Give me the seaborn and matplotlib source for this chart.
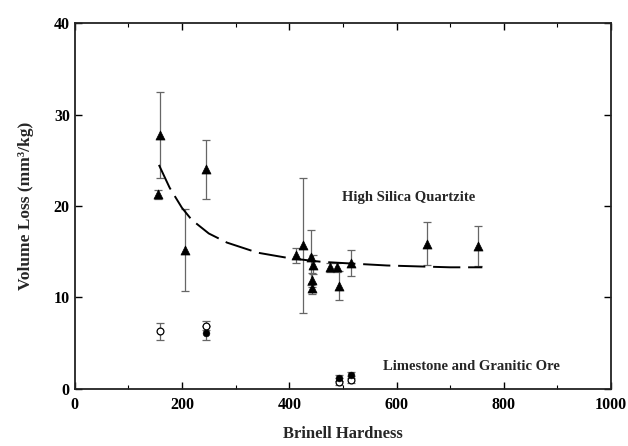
"""
Volume loss vs. Brinell hardness for quartzite and limestone ores.
"""

import matplotlib
matplotlib.use('Agg')
import matplotlib.pyplot as plt  # noqa: E402
import seaborn as sns  # noqa: E402
import pandas as pd  # noqa: E402
from matplotlib.ticker import MultipleLocator  # noqa: E402

# High silica quartzite (filled triangles)
quartz_hardness = [159, 155, 205, 244, 412, 425, 440, 444, 443, 443,
                   476, 489, 492, 515, 657, 752]
quartz_loss = [27.8, 21.3, 15.2, 24.0, 14.6, 15.7, 14.4, 13.6, 11.9, 11.0,
               13.3, 13.3, 11.3, 13.8, 15.9, 15.6]
quartz_err = [4.7, 0.5, 4.5, 3.2, 0.8, 7.4, 3.0, 1.0, 0.8, 0.6,
              0.5, 0.5, 1.6, 1.4, 2.4, 2.2]

# Limestone and granitic ore, open circles
lime_open_hardness = [159, 245, 493, 515]
lime_open_loss = [6.3, 6.9, 0.8, 1.0]
lime_open_err = [0.9, 0.5, 0.4, 0.4]

# Limestone and granitic ore, filled circles
lime_fill_hardness = [245, 493, 515]
lime_fill_loss = [6.1, 1.2, 1.5]
lime_fill_err = [0.8, 0.3, 0.3]

# Fitted trend for quartzite (dashed)
fit_hardness = [157, 177, 200, 218, 250, 284, 341, 400, 460, 520,
                582, 640, 700, 760]
fit_loss = [24.5, 22.0, 19.8, 18.5, 17.0, 16.0, 14.9, 14.3, 13.9, 13.7,
            13.5, 13.4, 13.3, 13.3]

sns.set_theme(style='ticks')
plt.rcParams['font.family'] = ['Liberation Serif', 'DejaVu Serif']
plt.rcParams['font.weight'] = 'bold'
plt.rcParams['axes.labelweight'] = 'bold'

fig = plt.figure(figsize=(6.28, 4.46), dpi=100)
ax = fig.add_axes([0.119, 0.128, 0.854, 0.820])

quartz = pd.DataFrame({'hardness': quartz_hardness, 'loss': quartz_loss})
lime_open = pd.DataFrame({'hardness': lime_open_hardness,
                          'loss': lime_open_loss})
lime_fill = pd.DataFrame({'hardness': lime_fill_hardness,
                          'loss': lime_fill_loss})
fit = pd.DataFrame({'hardness': fit_hardness, 'loss': fit_loss})

err_style = dict(fmt='none', ecolor='#666666', elinewidth=0.9,
                 capsize=3.2, capthick=0.9, zorder=2)
ax.errorbar(quartz_hardness, quartz_loss, yerr=quartz_err, **err_style)
ax.errorbar(lime_open_hardness, lime_open_loss, yerr=lime_open_err,
            **err_style)
ax.errorbar(lime_fill_hardness, lime_fill_loss, yerr=lime_fill_err,
            **err_style)

sns.lineplot(data=fit, x='hardness', y='loss', ax=ax, color='black',
             linewidth=1.4, zorder=3)
ax.lines[-1].set_dashes([14, 4])

sns.scatterplot(data=quartz, x='hardness', y='loss', ax=ax, marker='^',
                s=42, color='black', edgecolor='black', zorder=4)
sns.scatterplot(data=lime_open, x='hardness', y='loss', ax=ax, marker='o',
                s=24, facecolor='white', edgecolor='black', linewidth=0.9,
                zorder=4)
sns.scatterplot(data=lime_fill, x='hardness', y='loss', ax=ax, marker='o',
                s=24, color='black', edgecolor='black', zorder=5)

ax.text(498, 20.9, 'High Silica Quartzite', ha='left', va='center',
        fontsize=10.5, fontweight='bold')
ax.text(905, 2.5, 'Limestone and Granitic Ore', ha='right', va='center',
        fontsize=10.5, fontweight='bold')

ax.set_xlim(0, 1000)
ax.set_ylim(0, 40)
ax.xaxis.set_major_locator(MultipleLocator(200))
ax.xaxis.set_minor_locator(MultipleLocator(100))
ax.yaxis.set_major_locator(MultipleLocator(10))
ax.tick_params(which='both', direction='in', top=True, right=True,
               labelsize=11.5, colors='black')
ax.tick_params(which='major', length=5, width=1)
ax.tick_params(axis='x', which='major', pad=6)
ax.tick_params(which='minor', length=3, width=0.8)
for lab in ax.get_xticklabels() + ax.get_yticklabels():
    lab.set_fontweight('bold')
for spine in ax.spines.values():
    spine.set_linewidth(1.3)
    spine.set_color('#222222')

ax.set_xlabel('Brinell Hardness', fontsize=12, fontweight='bold',
              labelpad=9)
ax.set_ylabel('Volume Loss (mm³/kg)', fontsize=12.5, fontweight='bold',
              labelpad=14)

plt.savefig('out.png', dpi=100)
plt.close()
